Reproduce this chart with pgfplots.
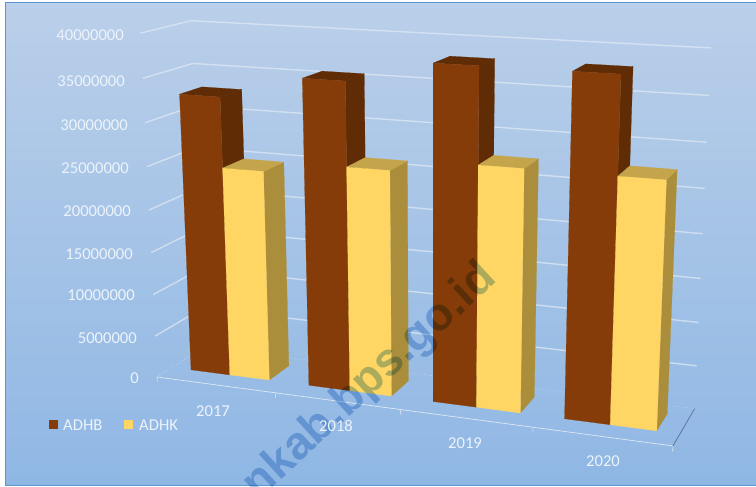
\documentclass[border=0pt]{standalone}
\usepackage{pgfplots}
\pgfplotsset{compat=1.18}
\usepackage{fontspec}
\setmainfont{Carlito}
\newfontfamily\wmfont{Liberation Sans}
\definecolor{brownF}{RGB}{134,60,8}
\definecolor{brownS}{RGB}{95,44,5}
\definecolor{yelF}{RGB}{255,214,100}
\definecolor{yelT}{RGB}{197,165,75}
\definecolor{yelS}{RGB}{170,142,60}
\definecolor{gridc}{RGB}{222,232,244}
\definecolor{lab}{RGB}{236,243,250}
\definecolor{wm}{RGB}{172,203,234}
\definecolor{frame}{RGB}{91,150,210}
% chart space: c = category position (0..4), d = depth (0..1), v = value
\newcommand{\denom}{(1-0.1048*\thisrow{c}/4+0.0561*\thisrow{d}-0.05578*\thisrow{v}/40000000)}
\pgfplotsset{table/proj/.style={row sep=\\,
  x expr={(157+445.4*\thisrow{c}/4+58.46*\thisrow{d}-24.15*\thisrow{v}/40000000)/\denom},
  y expr={(377+22.2*\thisrow{c}/4-10.49*\thisrow{d}-345.8*\thisrow{v}/40000000)/\denom}}}
\newcommand{\poly}[2]{\addplot[fill=#1,draw=#1,line width=0.2pt,forget plot] table[proj]{c d v\\#2} -- cycle;}
\newcommand{\onebar}[6]{%
  \poly{#6}{#2 0.31 0\\#2 0.77 0\\#2 0.77 #3\\#2 0.31 #3\\}%
  \poly{#5}{#1 0.31 #3\\#2 0.31 #3\\#2 0.77 #3\\#1 0.77 #3\\}%
  \poly{#4}{#1 0.31 0\\#2 0.31 0\\#2 0.31 #3\\#1 0.31 #3\\}}
\newcommand{\gridl}[1]{\addplot[gridc,opacity=0.75,line width=1.4pt,forget plot] table[proj]{c d v\\0 0 #1\\0 1 #1\\4 1 #1\\};}
\newcommand{\tickm}[1]{\addplot[gridc,line width=0.6pt,forget plot] table[proj]{c d v\\#1 0 0\\#1 0 -600000\\};}
\begin{document}
\begin{tikzpicture}[x=1pt,y=1pt]
\useasboundingbox (0,0) rectangle (756,487);
\clip (0,0) rectangle (756,487);
\fill[white] (0,0) rectangle (756,487);
\shade[top color={rgb,255:red,186;green,207;blue,233},middle color={rgb,255:red,168;green,197;blue,232},bottom color={rgb,255:red,143;green,183;blue,228},draw=frame,line width=1pt] (5,1) rectangle (762,484);
\begin{axis}[scale only axis,width=756pt,height=487pt,at={(0,0)},anchor=south west,
  xmin=0,xmax=756,ymin=0,ymax=487,y dir=reverse,hide axis,clip=false,no markers]
% value gridlines
\gridl{40000000}\gridl{35000000}\gridl{30000000}\gridl{25000000}
\gridl{20000000}\gridl{15000000}\gridl{10000000}\gridl{5000000}
% floor
\addplot[gridc,line width=0.5pt,dotted,forget plot] table[proj]{c d v\\0 0 0\\0 1 0\\4 1 0\\};
\addplot[gridc,line width=0.7pt,forget plot] table[proj]{c d v\\0 0 0\\4 0 0\\};
\addplot[color={rgb,255:red,90;green,120;blue,160},line width=0.8pt,forget plot] table[proj]{c d v\\4 0 0\\4 1 0\\};
\tickm{0}\tickm{1}\tickm{2}\tickm{3}\tickm{4}
% bars: ADHB, ADHK per year
\onebar{0.165}{0.5}{32800000}{brownF}{brownS}{brownS}
\onebar{0.5}{0.835}{24700000}{yelF}{yelT}{yelS}
\onebar{1.165}{1.5}{35500000}{brownF}{brownS}{brownS}
\onebar{1.5}{1.835}{26000000}{yelF}{yelT}{yelS}
\onebar{2.165}{2.5}{38000000}{brownF}{brownS}{brownS}
\onebar{2.5}{2.835}{27400000}{yelF}{yelT}{yelS}
\onebar{3.165}{3.5}{38000000}{brownF}{brownS}{brownS}
\onebar{3.5}{3.835}{27400000}{yelF}{yelT}{yelS}
% watermark
\begin{scope}[blend mode=multiply]
\node[rotate=42.5,anchor=east,text=wm,inner sep=0pt,font=\wmfont\bfseries\fontsize{46}{46}\selectfont] at (axis cs:490,272) {nkab.bps.go.id};
\end{scope}
% legend keys
\addplot[fill=brownF,draw=none,forget plot] coordinates {(49,420)(58,420)(58,429)(49,429)} -- cycle;
\addplot[fill=yelF,draw=none,forget plot] coordinates {(124,420)(133,420)(133,429)(124,429)} -- cycle;
\end{axis}
\begin{scope}[every node/.style={text=lab,inner sep=0pt,font=\fontsize{16.6}{16.6}\selectfont}]
\node[anchor=west] at (63,62) {ADHB};
\node[anchor=west] at (139,62) {ADHK};
\node[anchor=east] at (124,452) {40000000};
\node[anchor=east] at (125,406) {35000000};
\node[anchor=east] at (128,362) {30000000};
\node[anchor=east] at (129,319) {25000000};
\node[anchor=east] at (131,276) {20000000};
\node[anchor=east] at (133,233) {15000000};
\node[anchor=east] at (135,192) {10000000};
\node[anchor=east] at (137,149) {5000000};
\node[anchor=east] at (139,109) {0};
\node at (213,76) {2017};
\node at (336,61) {2018};
\node at (465,44) {2019};
\node at (603,26) {2020};
\end{scope}
\end{tikzpicture}
\end{document}
